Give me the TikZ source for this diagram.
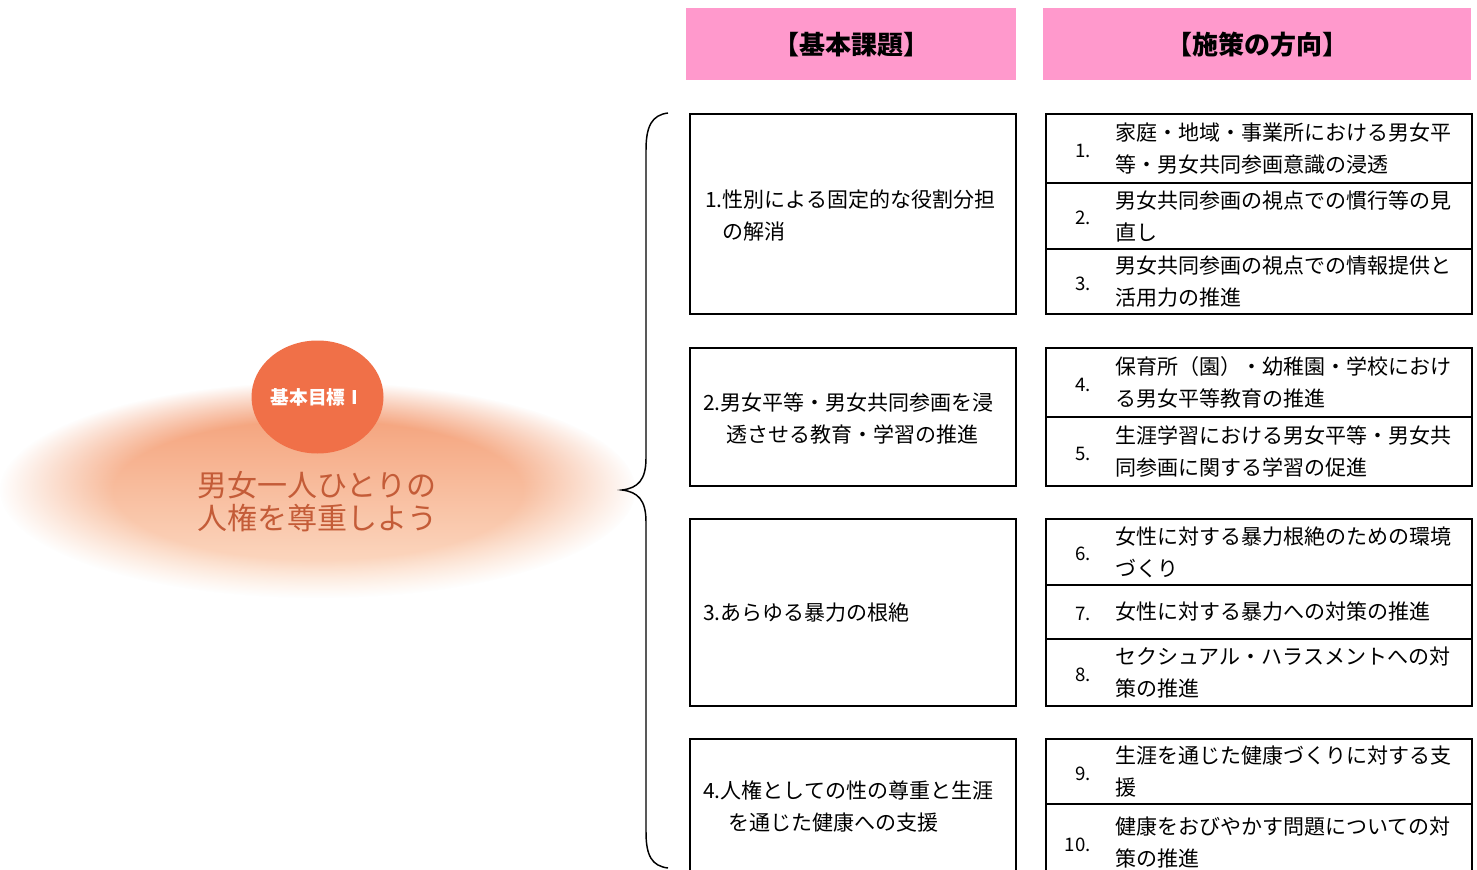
\documentclass[tikz,border=0pt]{standalone}
\usepackage{fontspec}
\setmainfont{Noto Sans CJK JP}
\usetikzlibrary{fadings,shapes.geometric}
\definecolor{hpink}{RGB}{255,153,204}
\definecolor{circ}{RGB}{240,112,72}
\definecolor{ellTop}{RGB}{243,152,110}
\definecolor{ellBot}{RGB}{253,226,206}
\definecolor{goaltxt}{RGB}{196,92,56}
\pgfdeclareradialshading{ellfadeshade}{\pgfpointorigin}{color(0bp)=(pgftransparent!0); color(16bp)=(pgftransparent!0); color(25bp)=(pgftransparent!100); color(50bp)=(pgftransparent!100)}
\pgfdeclarefading{ellfade}{\pgfuseshading{ellfadeshade}}
\newcommand\polrow[5]{%
  \node[rbox, anchor=north west, minimum height={(#3-#2)*0.75pt}] (#1) at (1045,#2) {};
  \node[numtxt, anchor=east] (#1n) at (1091,{(#2+#3)/2+3}) {#4};
  \node[rtxt, anchor=west] (#1t) at (1115,{(#2+#3)/2+1}) {#5};
}
\begin{document}
\begin{tikzpicture}[x=0.75pt, y=-0.75pt,
  hdr/.style={fill=hpink, draw=none, inner sep=0pt, anchor=north west, minimum height={72*0.75pt}, font={\fontsize{19.5}{22}\selectfont\bfseries}},
  lbox/.style={draw=black, line width=1.4pt, anchor=north west, minimum width={326*0.75pt}, inner sep=0pt},
  rbox/.style={draw=black, line width=1.4pt, minimum width={426*0.75pt}, inner sep=0pt},
  ltxt/.style={inner sep=0pt, align=left, anchor=west, font={\fontsize{15.75}{24}\selectfont}},
  rtxt/.style={inner sep=0pt, align=left, font={\fontsize{15.75}{24}\selectfont}},
  numtxt/.style={inner sep=0pt, font={\fontsize{14}{16}\selectfont}},
  brace line/.style={draw=black, line width=1.1pt}
]
\useasboundingbox (0,0) rectangle (1477,870);
\fill[white] (0,0) rectangle (1477,870);

% goal ellipse and circle
\shade[top color=ellTop, bottom color=ellBot, path fading=ellfade] (318,490) ellipse [x radius=318, y radius=108];
\node[ellipse, fill=circ, minimum width={131*0.75pt}, minimum height={113*0.75pt}, inner sep=0pt, text=white, font={\fontsize{14}{16}\selectfont\bfseries}] (goal) at (317.5,397) {基本目標Ⅰ};
\node[align=center, inner sep=0pt, text=goaltxt, font={\fontsize{22.5}{24.75}\selectfont}] (goaltext) at (317,502) {男女一人ひとりの\\人権を尊重しよう};

% headers
\node[hdr, minimum width={330*0.75pt}] (h1) at (686,8) {【基本課題】};
\node[hdr, minimum width={428*0.75pt}] (h2) at (1043,8) {【施策の方向】};

% brace
\coordinate (bTop) at (668,113);
\coordinate (bTip) at (622,490);
\coordinate (bBot) at (668,868);
\draw[brace line] (bTop) .. controls (652,115) and (646,126) .. (646,150) -- (646,458)
  .. controls (646,480) and (638,488) .. (bTip)
  .. controls (638,492) and (646,500) .. (646,522) -- (646,832)
  .. controls (646,856) and (652,866) .. (bBot);

% basic issue boxes
\node[lbox, minimum height={200*0.75pt}] (b1) at (689,113) {};
\node[ltxt] (b1t) at (705,215) {1.性別による固定的な役割分担\\\hspace*{12.75pt}の解消};
\node[lbox, minimum height={138*0.75pt}] (b2) at (689,347) {};
\node[ltxt] (b2t) at (703,418) {2.男女平等・男女共同参画を浸\\\hspace*{17.25pt}透させる教育・学習の推進};
\node[lbox, minimum height={187*0.75pt}] (b3) at (689,518) {};
\node[ltxt] (b3t) at (703,613) {3.あらゆる暴力の根絶};
\node[lbox, minimum height={142*0.75pt}] (b4) at (689,738) {};
\node[ltxt] (b4t) at (703,807) {4.人権としての性の尊重と生涯\\\hspace*{18.75pt}を通じた健康への支援};

% policy rows
\polrow{r1}{113}{182}{1.}{家庭・地域・事業所における男女平\\等・男女共同参画意識の浸透}
\polrow{r2}{182}{248}{2.}{男女共同参画の視点での慣行等の見\\直し}
\polrow{r3}{248}{313}{3.}{男女共同参画の視点での情報提供と\\活用力の推進}
\polrow{r4}{347}{416}{4.}{保育所（園）・幼稚園・学校におけ\\る男女平等教育の推進}
\polrow{r5}{416}{485}{5.}{生涯学習における男女平等・男女共\\同参画に関する学習の促進}
\polrow{r6}{518}{584}{6.}{女性に対する暴力根絶のための環境\\づくり}
\polrow{r7}{584}{638}{7.}{女性に対する暴力への対策の推進}
\polrow{r8}{638}{705}{8.}{セクシュアル・ハラスメントへの対\\策の推進}
\polrow{r9}{738}{803}{9.}{生涯を通じた健康づくりに対する支\\援}
\polrow{r10}{803}{880}{10.}{健康をおびやかす問題についての対\\策の推進}
\end{tikzpicture}
\end{document}
